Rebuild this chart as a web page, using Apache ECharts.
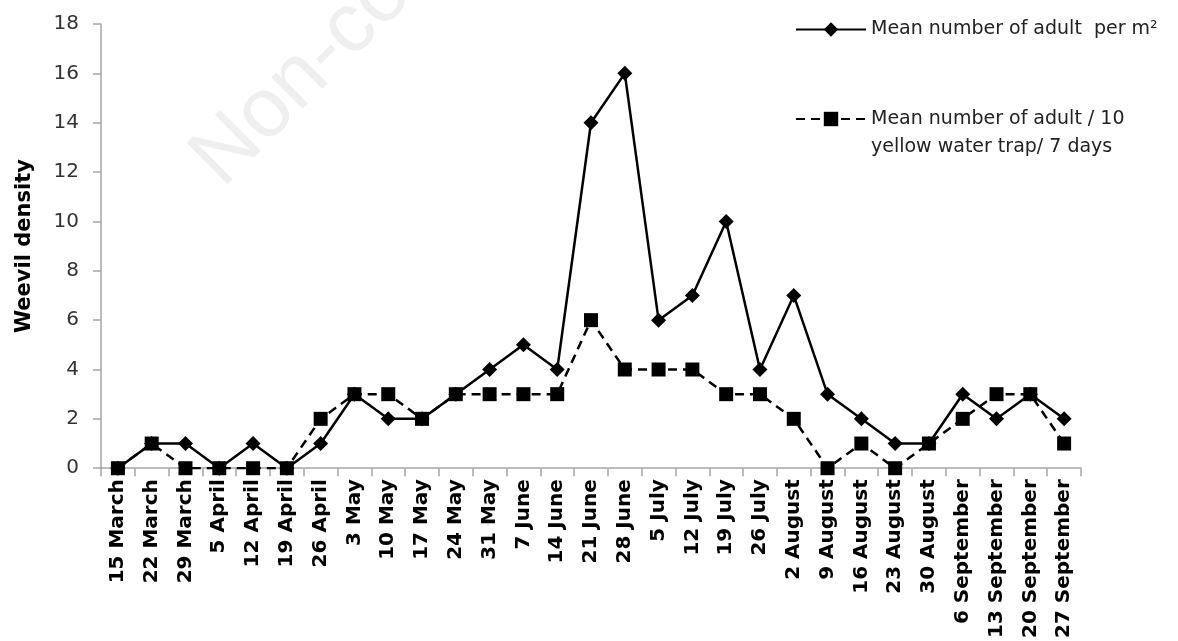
<!DOCTYPE html>
<html>
<head>
<meta charset="utf-8">
<script src="https://cdn.jsdelivr.net/npm/echarts@6/dist/echarts.min.js"></script>
<style>html,body{margin:0;padding:0;background:#fff}#c{width:1178px;height:641px}</style>
</head>
<body>
<div id="c"></div>
<script>
const categories = ['15 March','22 March','29 March','5 April','12 April','19 April','26 April','3 May','10 May','17 May','24 May','31 May','7 June','14 June','21 June','28 June','5 July','12 July','19 July','26 July','2 August','9 August','16 August','23 August','30 August','6 September','13 September','20 September','27 September'];
const perM2 = [0,1,1,0,1,0,1,3,2,2,3,4,5,4,14,16,6,7,10,4,7,3,2,1,1,3,2,3,2];
const trap = [0,1,0,0,0,0,2,3,3,2,3,3,3,3,6,4,4,4,3,3,2,0,1,0,1,2,3,3,1];
const name1 = 'Mean number of adult  per m\u00B2';
const name2 = 'Mean number of adult / 10 yellow water trap/ 7 days';
const FONT = 'DejaVu Sans';

const chart = echarts.init(document.getElementById('c'), null, {renderer:'canvas'});
chart.setOption({
  animation:false,
  backgroundColor:'#fff',
  graphic:[{
    type:'text', x:236, y:202, rotation:Math.PI/4, z:-10, silent:true,
    style:{text:'Non-commercial use', fontSize:84, fontFamily:'Liberation Sans', fill:'#efefef', textVerticalAlign:'bottom', textAlign:'left'}
  }],
  legend:[{
    data:[name1], left:790, top:15, orient:'vertical',
    itemWidth:70, itemHeight:18, itemGap:0,
    textStyle:{fontFamily:FONT, fontSize:19, color:'#222'}
  },{
    data:[name2], left:790, top:72, orient:'vertical',
    itemWidth:70, itemHeight:18, itemGap:0,
    formatter:function(){return ' \nMean number of adult / 10\nyellow water trap/ 7 days';},
    textStyle:{fontFamily:FONT, fontSize:19, color:'#222', lineHeight:28}
  }],
  grid:{left:101, right:97, top:24, bottom:172, containLabel:false},
  xAxis:{
    type:'category', data:categories, boundaryGap:true,
    axisLine:{lineStyle:{color:'#a6a6a6', width:1.5}},
    axisTick:{show:true, interval:0, length:8, lineStyle:{color:'#a6a6a6', width:1.5}},
    axisLabel:{interval:0, rotate:90, margin:11, fontFamily:FONT, fontWeight:'bold', fontSize:20, color:'#000'}
  },
  yAxis:{
    type:'value', min:0, max:18, interval:2,
    name:'Weevil density', nameLocation:'middle', nameRotate:90, nameGap:66,
    nameTextStyle:{fontFamily:FONT, fontWeight:'bold', fontSize:21, color:'#000'},
    axisLine:{show:true, lineStyle:{color:'#a6a6a6', width:1.5}},
    axisTick:{show:true, length:8, lineStyle:{color:'#a6a6a6', width:1.5}},
    splitLine:{show:false},
    axisLabel:{margin:22, fontFamily:FONT, fontSize:20, color:'#333'}
  },
  series:[{
    name:name2, type:'line', data:trap,
    symbol:'rect', symbolSize:14,
    itemStyle:{color:'#000'},
    lineStyle:{color:'#000', width:2.5, type:[9,6]},
    z:2
  },{
    name:name1, type:'line', data:perM2,
    symbol:'diamond', symbolSize:15,
    itemStyle:{color:'#000'},
    lineStyle:{color:'#000', width:2.5},
    z:3
  }]
});
</script>
</body>
</html>
